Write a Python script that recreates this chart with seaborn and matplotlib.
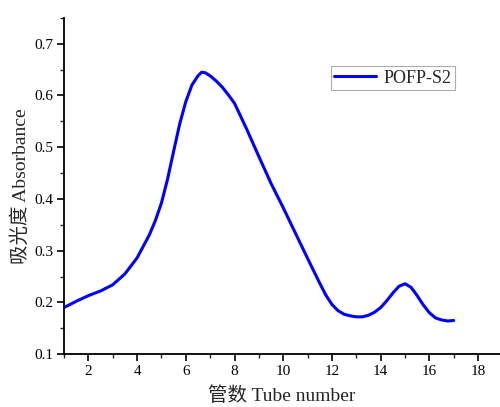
import matplotlib
matplotlib.use("Agg")
import matplotlib.pyplot as plt
import seaborn as sns
import pandas as pd
from matplotlib.ticker import MultipleLocator

tube = [1, 1.5, 2, 2.5, 3, 3.5, 4, 4.5, 4.75, 5, 5.25, 5.5, 5.75, 6, 6.25, 6.5, 6.65,
        6.8, 7, 7.25, 7.5, 7.75, 8, 8.5, 9, 9.5, 10, 10.5, 11, 11.5, 11.75, 12, 12.25,
        12.5, 12.75, 13, 13.25, 13.5, 13.75, 14, 14.25, 14.5, 14.75, 15, 15.25, 15.5,
        15.75, 16, 16.25, 16.5, 16.75, 17]
absorbance = [0.19, 0.202, 0.213, 0.222, 0.234, 0.255, 0.286, 0.33, 0.358, 0.392,
              0.438, 0.492, 0.545, 0.588, 0.62, 0.638, 0.645, 0.644, 0.638, 0.628,
              0.616, 0.601, 0.585, 0.535, 0.482, 0.43, 0.383, 0.334, 0.285, 0.237,
              0.214, 0.196, 0.184, 0.177, 0.174, 0.172, 0.172, 0.175, 0.181, 0.19,
              0.203, 0.218, 0.231, 0.236, 0.229, 0.213, 0.195, 0.18, 0.17, 0.166,
              0.164, 0.165]
series_name = "POFP-S2"

df = pd.DataFrame({"tube": tube, "abs": absorbance, "series": series_name})

sns.set_style("ticks")
plt.rcParams['font.family'] = ['Liberation Serif', 'Noto Sans CJK SC']

fig = plt.figure(figsize=(5.0, 4.07), dpi=100)
ax = fig.add_axes([0.128, 0.130, 0.872, 0.826])

sns.lineplot(data=df, x="tube", y="abs", hue="series", palette=["#0000ff"],
             linewidth=2.2, ax=ax)

ax.set_xlim(1, 18.9)
ax.set_ylim(0.1, 0.75)
ax.xaxis.set_minor_locator(MultipleLocator(1))
ax.yaxis.set_minor_locator(MultipleLocator(0.05))
ax.set_xticks([2, 4, 6, 8, 10, 12, 14, 16, 18])
ax.set_yticks([0.1, 0.2, 0.3, 0.4, 0.5, 0.6, 0.7])
ax.set_yticklabels(["0.1", "0.2", "0.3", "0.4", "0.5", "0.6", "0.7"])

for s in ["top", "right"]:
    ax.spines[s].set_visible(False)
for s in ["left", "bottom"]:
    ax.spines[s].set_linewidth(1.3)
    ax.spines[s].set_color("black")

ax.tick_params(which="major", direction="out", length=5, width=1.2, labelsize=11,
               colors="black", pad=3)
ax.tick_params(which="minor", direction="out", length=3, width=1.0)

ax.set_xlabel("管数 Tube number", fontsize=14, labelpad=6)
ax.set_ylabel("吸光度 Absorbance", fontsize=14, labelpad=3)

leg = ax.legend(loc="upper left", bbox_to_anchor=(0.612, 0.857), fontsize=13,
                frameon=True, fancybox=False, handlelength=2.3, handletextpad=0.4,
                borderpad=0.2, borderaxespad=0)
leg.get_frame().set_edgecolor("#999999")
leg.get_frame().set_linewidth(0.8)
for line in leg.get_lines():
    line.set_linewidth(2.2)

fig.savefig("out.png", dpi=100)
